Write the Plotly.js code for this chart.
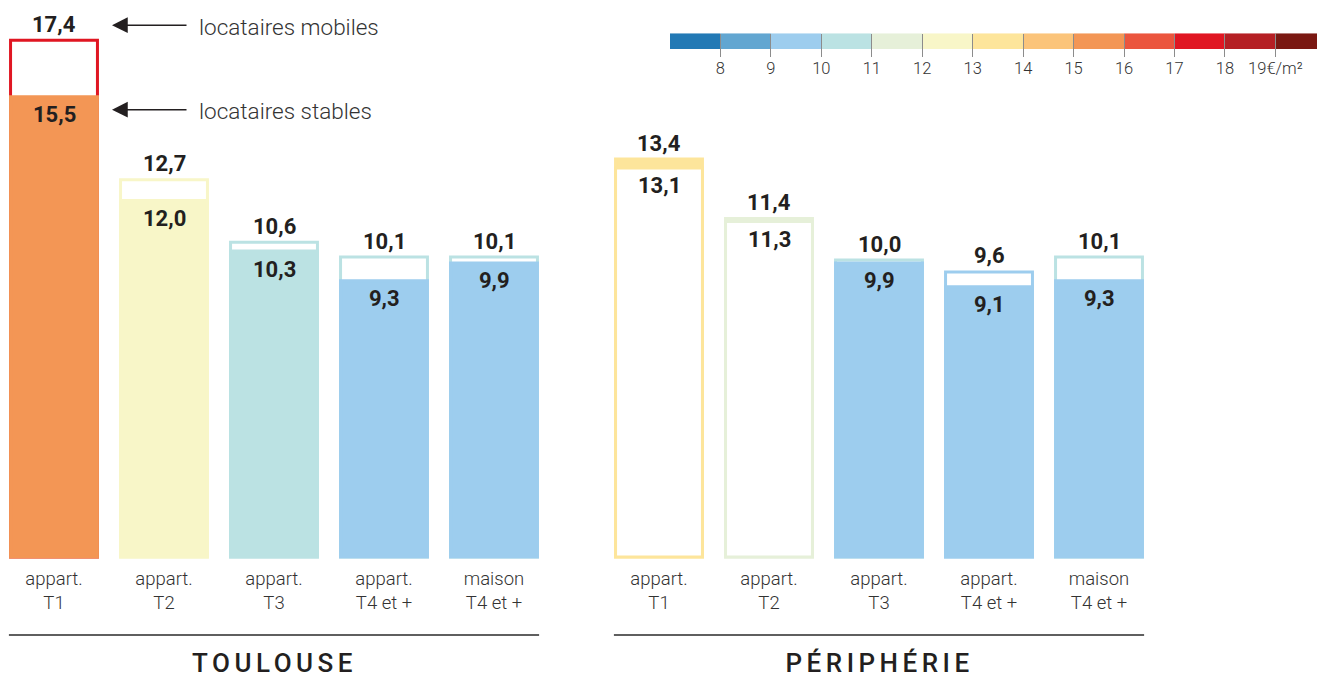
<!DOCTYPE html>
<html>
<head>
<meta charset="utf-8">
<script src="https://cdn.plot.ly/plotly-3.0.1.min.js"></script>
<style>
  html, body { margin: 0; padding: 0; background: #fff; }
  #chart { width: 1317px; height: 677px; }
</style>
</head>
<body>
<div id="chart"></div>
<script>
// ---------- DATA ----------
const categories = ['appart.<br>T1', 'appart.<br>T2', 'appart.<br>T3', 'appart.<br>T4 et +', 'maison<br>T4 et +'];
const groups = ['TOULOUSE', 'PÉRIPHÉRIE'];
const toulouseMobiles   = [17.4, 12.7, 10.6, 10.1, 10.1];
const toulouseStables   = [15.5, 12.0, 10.3, 9.3, 9.9];
const peripherieMobiles = [13.4, 11.4, 10.0, 9.6, 10.1];
const peripherieStables = [13.1, 11.3, 9.9, 9.1, 9.3];
const legendMobiles = 'locataires mobiles';
const legendStables = 'locataires stables';

// colour scale (€/m²)
const scaleBinStarts = [7, 8, 9, 10, 11, 12, 13, 14, 15, 16, 17, 18, 19];
const scaleColors = ['#2279B5', '#62A6D1', '#9DCDEE', '#BBE2E3', '#E6F0D9', '#F8F6C8',
                     '#FDE59B', '#FBC47A', '#F39655', '#EB553E', '#E01622', '#B51F24', '#7A1812'];
const scaleTickValues = [8, 9, 10, 11, 12, 13, 14, 15, 16, 17, 18, 19];
const scaleTickLabels = ['8', '9', '10', '11', '12', '13', '14', '15', '16', '17', '18', '19€/m²'];

// ---------- STYLE / LAYOUT CONSTANTS ----------
const groupPitch = 5.5;       // bars per group + gap
const barWidth = 0.79;
const outlineWidth = 3;
const hollowStable = { 1: [0, 1] };   // group index -> bar indexes drawn as hollow stable bars
const textColor = '#231F20';
const FONT = 'Roboto, "Open Sans", sans-serif';

function colorFor(v) {
  let idx = 0;
  for (let i = 0; i < scaleBinStarts.length; i++) if (v >= scaleBinStarts[i]) idx = i;
  return scaleColors[idx];
}
function fmt(v) { return v.toFixed(1).replace('.', ','); }

const mobilesByGroup = [toulouseMobiles, peripherieMobiles];
const stablesByGroup = [toulouseStables, peripherieStables];

const xs = [], mob = [], stab = [], mobFill = [], mobLine = [], stabFill = [], stabLine = [], tickText = [];
groups.forEach((g, gi) => {
  categories.forEach((c, ci) => {
    const x = gi * groupPitch + ci;
    const m = mobilesByGroup[gi][ci], s = stablesByGroup[gi][ci];
    const hollow = (hollowStable[gi] || []).includes(ci);
    xs.push(x); mob.push(m); stab.push(s); tickText.push(c);
    mobFill.push(hollow ? colorFor(m) : '#ffffff');
    mobLine.push(colorFor(m));
    stabFill.push(hollow ? '#ffffff' : colorFor(s));
    stabLine.push(colorFor(s));
  });
});

const traces = [
  {
    type: 'bar', x: xs, y: mob, width: barWidth, hoverinfo: 'skip',
    marker: { color: mobFill, line: { color: mobLine, width: outlineWidth } }
  },
  {
    type: 'bar', x: xs, y: stab, width: barWidth, hoverinfo: 'skip',
    marker: { color: stabFill, line: { color: stabLine, width: outlineWidth } }
  },
  {
    type: 'bar', orientation: 'h', xaxis: 'x2', yaxis: 'y2', hoverinfo: 'skip',
    y: scaleBinStarts.map(() => 1), x: scaleBinStarts.map(() => 1), base: scaleBinStarts, width: 1,
    marker: { color: scaleColors, line: { width: 0 } }
  }
];

const annotations = [];
xs.forEach((x, i) => {
  annotations.push({ x: x, y: mob[i], xref: 'x', yref: 'y', text: fmt(mob[i]), showarrow: false,
    yshift: 16, yanchor: 'middle', font: { family: FONT, size: 22, color: textColor, weight: 700 } });
  annotations.push({ x: x, y: stab[i], xref: 'x', yref: 'y', text: fmt(stab[i]), showarrow: false,
    yshift: -18, yanchor: 'middle', font: { family: FONT, size: 22, color: textColor, weight: 700 } });
});
// explanatory arrows on first bar
[[mob[0], 15, 13, legendMobiles], [stab[0], -13, -14, legendStables]].forEach(([v, ys, ts, label]) => {
  annotations.push({ x: xs[0], y: v, xref: 'x', yref: 'y', xshift: 58, yshift: ys, text: '',
    showarrow: true, ax: 76, ay: 0, axref: 'pixel', ayref: 'pixel',
    arrowhead: 2, arrowsize: 2.1, arrowwidth: 1.5, arrowcolor: textColor, standoff: 0, startstandoff: 0 });
  annotations.push({ x: xs[0], y: v, xref: 'x', yref: 'y', xshift: 143, yshift: ts, text: label,
    showarrow: false, xanchor: 'left', yanchor: 'middle',
    font: { family: FONT, size: 22.5, color: '#333333', weight: 300 } });
});
// group titles
groups.forEach((g, gi) => {
  annotations.push({ x: gi * groupPitch + (categories.length - 1) / 2, y: 14 / 677, xref: 'x', yref: 'paper',
    text: g, showarrow: false, yanchor: 'middle',
    font: { family: FONT, size: 26, color: textColor, weight: 500 } });
});

const shapes = groups.map((g, gi) => ({
  type: 'line', xref: 'x', yref: 'paper',
  x0: gi * groupPitch - barWidth / 2 - 0.015, x1: gi * groupPitch + categories.length - 1 + barWidth / 2 + 0.015,
  y0: 42 / 677, y1: 42 / 677, line: { color: '#5f5f5f', width: 2 }
}));

const layout = {
  width: 1317, height: 677,
  margin: { l: 0, r: 0, t: 0, b: 0 },
  paper_bgcolor: '#ffffff', plot_bgcolor: '#ffffff',
  barmode: 'overlay', showlegend: false,
  xaxis: {
    domain: [0, 1], range: [-54 / 110, (1317 - 54) / 110],
    tickvals: xs, ticktext: tickText, ticks: '', showgrid: false, zeroline: false, showline: false,
    ticklabelstandoff: 5,
    tickfont: { family: FONT, size: 18.5, color: '#333333', weight: 300 }, fixedrange: true
  },
  yaxis: { domain: [117 / 677, 1], range: [-3 / 29.7, 557 / 29.7], visible: false, fixedrange: true },
  xaxis2: {
    domain: [670 / 1317, 1], range: [7, 7 + (1317 - 670) / 50.45], anchor: 'y2',
    tickvals: scaleTickValues, ticktext: scaleTickLabels, ticks: 'inside', ticklen: 23,
    tickcolor: '#8c8c8c', tickwidth: 1, showgrid: false, zeroline: false, showline: false,
    tickfont: { family: FONT, size: 16.5, color: '#333333', weight: 300 }, fixedrange: true
  },
  yaxis2: { domain: [(677 - 56.7) / 677, (677 - 33.3) / 677], range: [0, 1.5], visible: false, anchor: 'x2', fixedrange: true },
  annotations: annotations,
  shapes: shapes
};

Plotly.newPlot('chart', traces, layout, { displayModeBar: false, staticPlot: true }).then(() => {
  document.querySelectorAll('#chart .annotation-text').forEach(el => {
    if (groups.includes(el.textContent)) el.style.letterSpacing = '4.5px';
  });
});
</script>
</body>
</html>
